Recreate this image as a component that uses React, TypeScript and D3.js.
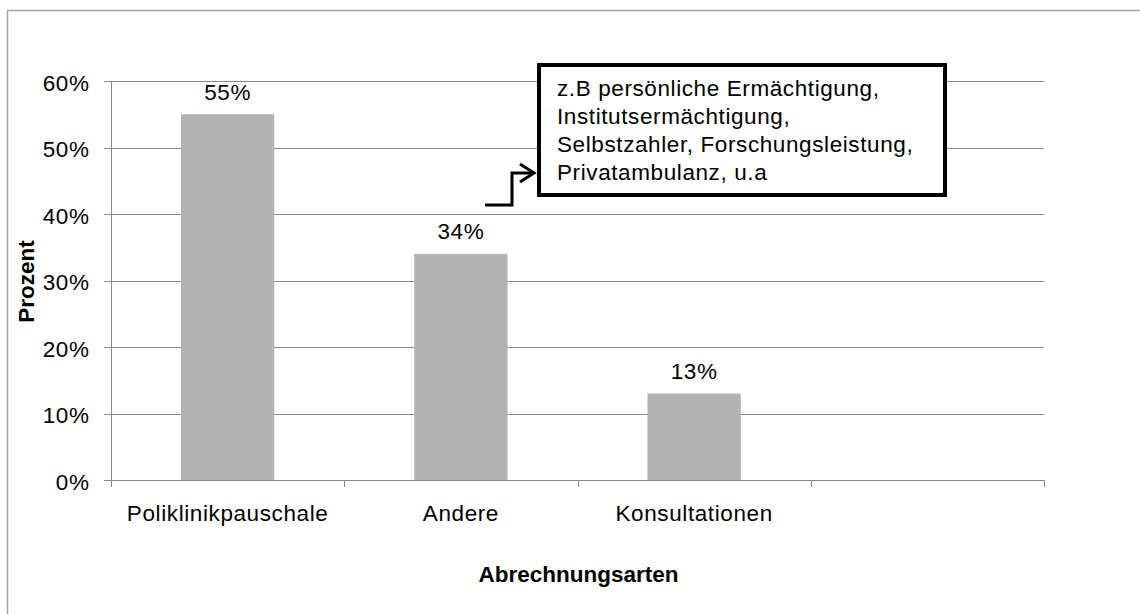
import React from "react";
import * as d3 from "d3";

const categories = ["Poliklinikpauschale", "Andere", "Konsultationen", ""];
const values = [55, 34, 13, null];
const yTicks = [0, 10, 20, 30, 40, 50, 60];
const annotationLines = [
  "z.B persönliche Ermächtigung,",
  "Institutsermächtigung,",
  "Selbstzahler, Forschungsleistung,",
  "Privatambulanz, u.a",
];

const W = 1140;
const H = 614;
const left = 111;
const right = 1044;
const top = 81;
const bottom = 480;
const font = "'Liberation Sans', Arial, sans-serif";
const fs = 22.5;
const ls = 0.6;

export default function App() {
  const x = d3.scaleBand<string>().domain(categories.map((c, i) => String(i))).range([left, right]).paddingInner(0).paddingOuter(0);
  const y = d3.scaleLinear().domain([0, 60]).range([bottom, top]);
  const bw = x.bandwidth() * 0.4;
  const gridColor = "#898989";

  return (
    <svg width={W} height={H} style={{ position: "absolute", left: 0, top: 0 }} fontFamily={font}>
      <rect x={0} y={0} width={W} height={H} fill="#fff" />
      <rect x={7.5} y={10.5} width={1200} height={700} fill="#fff" stroke="#a6a6a6" strokeWidth={1.5} />
      {yTicks.map((t) => (
        <g key={t}>
          {t > 0 && (
            <line x1={left} x2={right} y1={Math.round(y(t)) + 0.5} y2={Math.round(y(t)) + 0.5} stroke={gridColor} strokeWidth={1} />
          )}
          <line x1={left - 7} x2={left} y1={Math.round(y(t)) + 0.5} y2={Math.round(y(t)) + 0.5} stroke={gridColor} strokeWidth={1} />
          <text x={89.5} y={y(t) + 9.5} textAnchor="end" fontSize={fs} letterSpacing={ls} fill="#000">
            {t}%
          </text>
        </g>
      ))}
      {values.map((v, i) =>
        v == null ? null : (
          <g key={i}>
            <rect
              x={(x(String(i)) as number) + x.bandwidth() / 2 - bw / 2}
              y={y(v)}
              width={bw}
              height={bottom - y(v)}
              fill="#b3b3b3"
            />
            <text
              x={(x(String(i)) as number) + x.bandwidth() / 2}
              y={y(v) - 14.5}
              textAnchor="middle"
              fontSize={fs}
              letterSpacing={ls}
              fill="#000"
            >
              {v}%
            </text>
          </g>
        )
      )}
      <line x1={left + 0.5} x2={left + 0.5} y1={top} y2={bottom} stroke={gridColor} />
      <line x1={left} x2={right} y1={bottom + 0.5} y2={bottom + 0.5} stroke={gridColor} />
      {[0, 1, 2, 3, 4].map((i) => {
        const xx = Math.round(left + i * x.bandwidth()) + 0.5;
        return <line key={i} x1={xx} x2={xx} y1={bottom} y2={bottom + 7} stroke={gridColor} />;
      })}
      {categories.map((c, i) => (
        <text
          key={i}
          x={(x(String(i)) as number) + x.bandwidth() / 2}
          y={521}
          textAnchor="middle"
          fontSize={fs}
          letterSpacing={ls}
          fill="#000"
        >
          {c}
        </text>
      ))}
      <text
        transform={`translate(34,${(top + bottom) / 2 + 1}) rotate(-90)`}
        textAnchor="middle"
        fontSize={fs}
        fontWeight="bold"
        fill="#000"
      >
        Prozent
      </text>
      <text x={(left + right) / 2 + 1} y={582} textAnchor="middle" fontSize={fs} fontWeight="bold" fill="#000">
        Abrechnungsarten
      </text>
      {/* annotation connector */}
      <path d="M485,205 H512 V173 H533" fill="none" stroke="#000" strokeWidth={3} />
      <path d="M520,164 L534,173 L520,182" fill="none" stroke="#000" strokeWidth={3} />
      <rect x={539} y={65} width={406} height={130} fill="#fff" stroke="#000" strokeWidth={4} />
      {annotationLines.map((l, i) => (
        <text key={i} x={557} y={96 + i * 28} fontSize={fs} letterSpacing={ls} fill="#000">
          {l}
        </text>
      ))}
    </svg>
  );
}
